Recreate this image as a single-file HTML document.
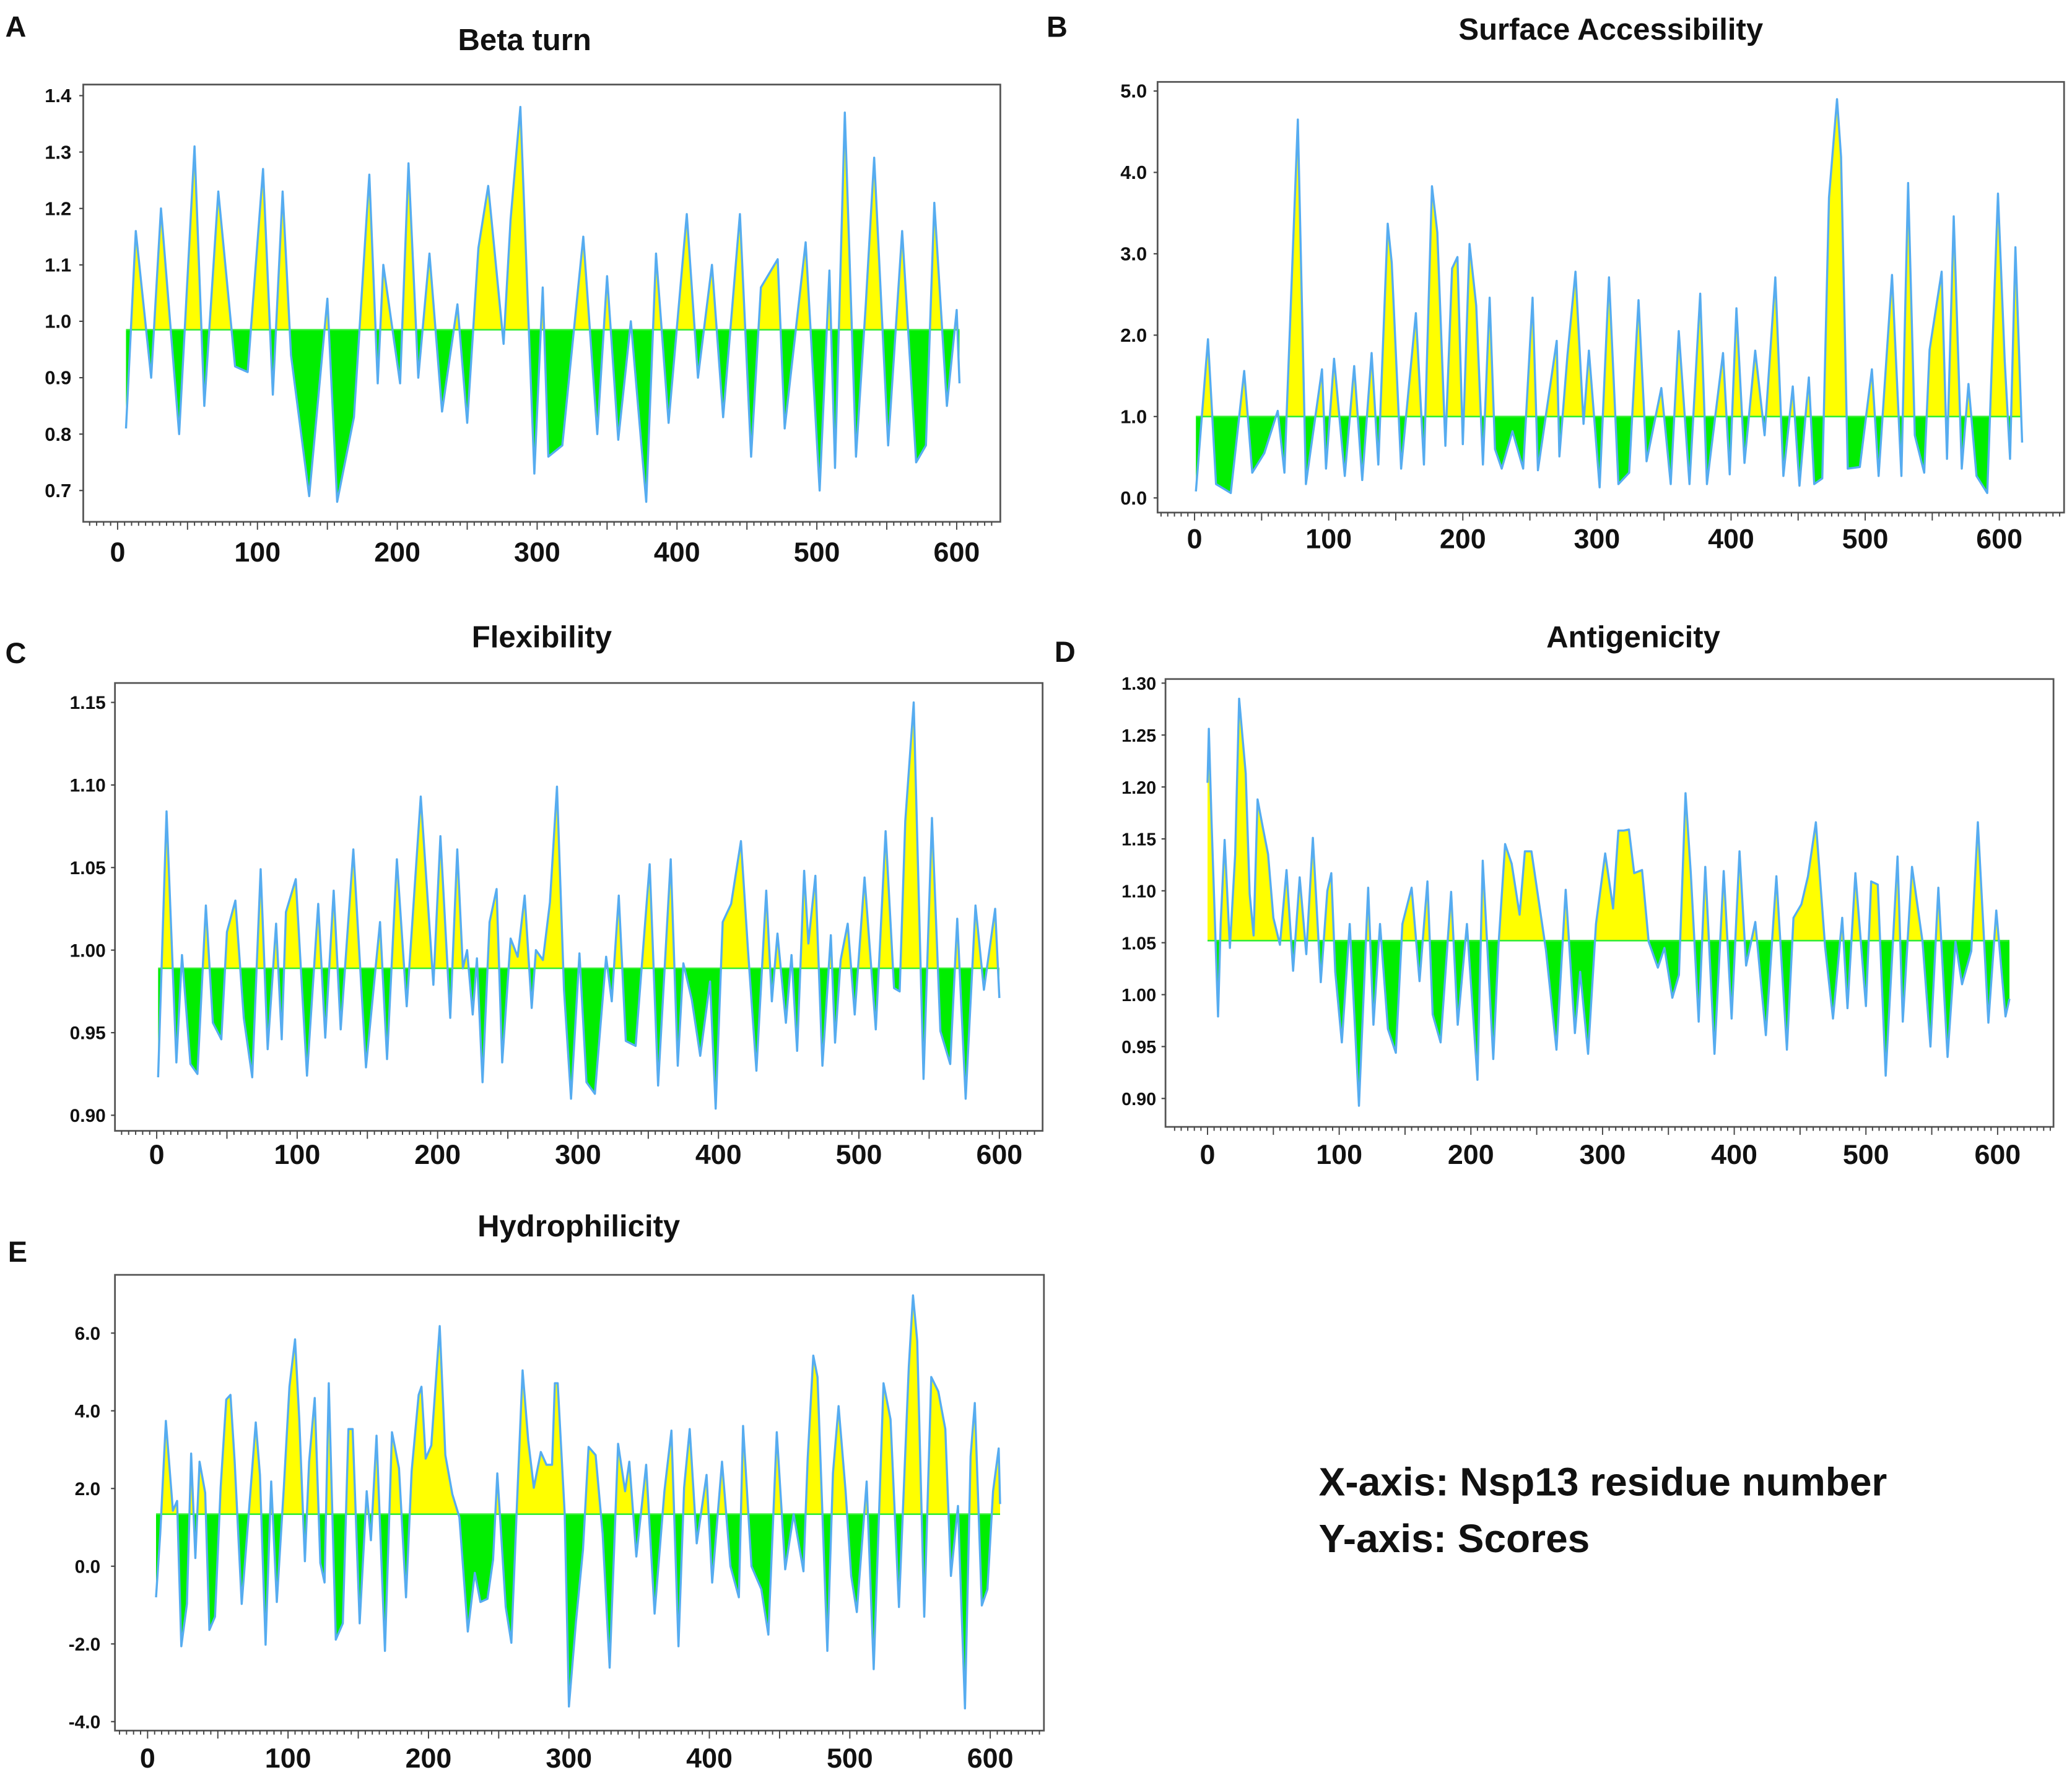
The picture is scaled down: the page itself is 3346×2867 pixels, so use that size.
<!DOCTYPE html>
<html><head><meta charset="utf-8"><title>Nsp13 antigenicity profiles</title>
<style>
html,body{margin:0;padding:0;background:#fff;}
svg{display:block;}
text{font-family:"Liberation Sans",sans-serif;font-weight:bold;fill:#111;}
</style></head>
<body>
<svg id="fig" width="3346" height="2867" viewBox="0 0 1568 1343.6" preserveAspectRatio="none" xmlns="http://www.w3.org/2000/svg">
<rect x="0" y="0" width="1568" height="1343.6" fill="#fff"/>
<text x="4" y="28" font-size="22">A</text>
<text x="397" y="38" font-size="23" text-anchor="middle">Beta turn</text>
<text x="792" y="28" font-size="22">B</text>
<text x="1219" y="30" font-size="23" text-anchor="middle">Surface Accessibility</text>
<text x="4" y="502" font-size="22">C</text>
<text x="410" y="490" font-size="23" text-anchor="middle">Flexibility</text>
<text x="798" y="501" font-size="22">D</text>
<text x="1236" y="490" font-size="23" text-anchor="middle">Antigenicity</text>
<text x="6" y="955" font-size="22">E</text>
<text x="438" y="936" font-size="23" text-anchor="middle">Hydrophilicity</text>
<text x="998" y="1132" font-size="30">X-axis: Nsp13 residue number</text>
<text x="998" y="1175" font-size="30">Y-axis: Scores</text>
</svg>
<script>
// ---- Data (residue number, score) ----
const aRes=[6,13,24,31,44,55,62,72,84,93,104,111,118,124,137,150,157,169,180,186,190,202,208,215,223,232,243,250,258,265,276,281,288,298,304,308,318,333,343,350,358,367,378,385,394,407,415,425,433,445,453,460,472,477,492,502,509,513,520,528,535,541,551,561,571,578,584,593,600,602];
const aVal=[0.81,1.16,0.90,1.20,0.80,1.31,0.85,1.23,0.92,0.91,1.27,0.87,1.23,0.94,0.69,1.04,0.68,0.83,1.26,0.89,1.10,0.89,1.28,0.90,1.12,0.84,1.03,0.82,1.13,1.24,0.96,1.18,1.38,0.73,1.06,0.76,0.78,1.15,0.80,1.08,0.79,1.00,0.68,1.12,0.82,1.19,0.90,1.10,0.83,1.19,0.76,1.06,1.11,0.81,1.14,0.70,1.09,0.74,1.37,0.76,1.03,1.29,0.78,1.16,0.75,0.78,1.21,0.85,1.02,0.89];
const bRes=[1,10,16,27,37,43,52,62,67,77,83,95,98,104,112,119,125,132,137,144,147,154,165,171,177,181,187,192,196,200,205,210,215,220,224,229,237,245,252,256,270,272,278,284,290,294,302,309,316,324,331,337,348,355,361,369,377,382,394,399,404,410,418,425,433,439,446,451,458,462,468,473,479,482,487,496,505,510,520,527,532,537,544,548,557,561,566,572,577,583,591,599,604,608,612,617];
const bVal=[0.08,1.95,0.17,0.06,1.56,0.31,0.55,1.07,0.31,4.65,0.17,1.58,0.36,1.71,0.27,1.62,0.22,1.78,0.41,3.37,2.89,0.36,2.27,0.41,3.83,3.26,0.64,2.82,2.96,0.66,3.12,2.36,0.41,2.46,0.60,0.36,0.82,0.36,2.46,0.34,1.93,0.51,1.75,2.78,0.91,1.81,0.13,2.71,0.17,0.31,2.43,0.45,1.35,0.17,2.05,0.17,2.51,0.17,1.78,0.29,2.33,0.43,1.81,0.77,2.71,0.27,1.37,0.15,1.48,0.17,0.24,3.69,4.90,4.19,0.36,0.38,1.58,0.27,2.74,0.27,3.87,0.77,0.31,1.82,2.78,0.48,3.46,0.36,1.40,0.27,0.06,3.74,1.69,0.48,3.08,0.68];
const cRes=[1,7,14,18,24,29,35,40,46,50,56,62,68,74,79,85,89,92,99,107,115,120,126,131,140,149,159,164,171,178,188,197,202,209,214,218,221,225,228,232,237,242,246,252,257,262,267,270,275,280,285,290,295,301,306,312,320,324,329,334,341,351,357,366,371,375,381,387,394,398,403,409,416,421,427,434,438,442,448,452,456,461,464,469,474,480,483,487,492,497,504,512,519,525,529,533,539,546,552,558,565,570,576,583,589,597,600];
const cVal=[0.923,1.084,0.932,0.997,0.931,0.925,1.027,0.956,0.946,1.011,1.030,0.959,0.923,1.049,0.940,1.016,0.946,1.023,1.043,0.924,1.028,0.947,1.036,0.952,1.061,0.929,1.017,0.934,1.055,0.966,1.093,0.979,1.069,0.959,1.061,0.989,1.000,0.961,0.995,0.920,1.017,1.037,0.932,1.007,0.996,1.033,0.965,1.000,0.994,1.029,1.099,0.976,0.910,0.998,0.920,0.913,0.996,0.969,1.033,0.945,0.942,1.052,0.918,1.055,0.930,0.992,0.970,0.936,0.981,0.904,1.017,1.028,1.066,1.000,0.927,1.036,0.969,1.010,0.956,0.997,0.939,1.048,1.004,1.045,0.930,1.009,0.944,0.994,1.016,0.961,1.044,0.952,1.072,0.977,0.975,1.078,1.150,0.922,1.080,0.951,0.931,1.019,0.910,1.027,0.976,1.025,0.971];
const dRes=[0,1,3,8,10,13,17,21,24,29,32,35,38,42,46,50,55,60,65,70,75,80,86,91,94,97,102,108,115,122,126,131,137,143,148,155,161,167,171,177,185,190,197,205,209,217,221,226,231,237,241,246,252,257,265,272,279,283,289,295,302,308,312,316,320,324,330,335,342,347,353,358,363,367,373,378,385,392,398,404,409,416,424,432,440,445,451,456,462,469,475,482,486,492,500,504,509,515,524,528,535,543,549,555,562,568,573,580,585,593,599,606,609];
const dVal=[1.204,1.256,1.169,0.979,1.068,1.149,1.045,1.135,1.285,1.213,1.097,1.057,1.188,1.161,1.135,1.074,1.048,1.120,1.023,1.113,1.039,1.151,1.012,1.100,1.117,1.022,0.954,1.068,0.893,1.103,0.971,1.068,0.967,0.944,1.068,1.103,1.013,1.109,0.981,0.954,1.099,0.971,1.068,0.918,1.129,0.938,1.048,1.145,1.126,1.077,1.138,1.138,1.086,1.043,0.947,1.101,0.963,1.022,0.943,1.068,1.136,1.083,1.158,1.158,1.159,1.117,1.120,1.051,1.026,1.045,0.997,1.019,1.194,1.117,0.974,1.123,0.943,1.119,0.977,1.138,1.028,1.070,0.961,1.114,0.947,1.074,1.087,1.114,1.166,1.046,0.977,1.074,0.987,1.117,0.989,1.109,1.106,0.922,1.133,0.974,1.123,1.051,0.950,1.103,0.940,1.051,1.010,1.042,1.166,0.973,1.081,0.979,0.996];
const eRes=[6,9,13,18,21,24,28,31,34,37,41,44,48,52,56,59,62,67,72,77,80,84,88,92,97,101,105,108,112,115,119,123,126,129,134,139,143,146,151,156,159,163,169,174,179,184,188,193,195,198,202,208,212,217,222,228,233,237,242,246,249,255,259,263,267,271,275,280,284,288,290,292,297,300,305,310,314,319,324,329,335,340,343,348,355,361,368,373,378,382,386,391,398,402,409,415,421,424,430,437,442,448,454,460,467,470,474,477,484,488,492,497,501,505,512,517,524,529,535,542,545,548,553,558,563,568,572,577,582,586,589,594,598,602,606,607];
const eVal=[-0.80,0.84,3.74,1.43,1.68,-2.06,-0.97,2.90,0.21,2.69,1.89,-1.64,-1.30,2.02,4.29,4.41,2.69,-0.97,1.34,3.70,2.35,-2.02,2.18,-0.92,2.02,4.62,5.84,3.78,0.13,2.69,4.33,0.08,-0.42,4.71,-1.89,-1.47,3.53,3.53,-1.47,1.93,0.67,3.36,-2.18,3.45,2.52,-0.80,2.44,4.41,4.62,2.77,3.11,6.18,2.86,1.85,1.26,-1.68,-0.17,-0.92,-0.84,0.17,2.39,-1.05,-1.97,1.60,5.04,3.24,2.02,2.94,2.61,2.61,4.71,4.71,1.34,-3.61,-1.43,0.42,3.07,2.86,0.84,-2.61,3.15,1.93,2.69,0.25,2.61,-1.22,1.93,3.49,-2.06,2.02,3.53,0.59,2.35,-0.42,2.69,0.00,-0.80,3.61,0.00,-0.59,-1.76,3.45,-0.08,1.34,-0.13,2.77,5.42,4.87,-2.18,2.39,4.12,1.93,-0.25,-1.18,2.18,-2.65,4.71,3.78,-1.05,5.13,6.97,5.80,-1.30,4.87,4.50,3.53,-0.25,1.55,-3.66,2.82,4.20,-1.01,-0.59,1.93,3.03,1.60];
// tick values
const aYTicks=[1.4,1.3,1.2,1.1,1.0,0.9,0.8,0.7];
const bYTicks=[5.0,4.0,3.0,2.0,1.0,0.0];
const cYTicks=[1.15,1.10,1.05,1.00,0.95,0.90];
const dYTicks=[1.30,1.25,1.20,1.15,1.10,1.05,1.00,0.95,0.90];
const eYTicks=[6,4,2,0,-2,-4];
const xTickLabels=[0,100,200,300,400,500,600];

const NS='http://www.w3.org/2000/svg';
const svg=document.getElementById('fig');
function mk(t,attrs,parent){const e=document.createElementNS(NS,t);for(const k in attrs)e.setAttribute(k,attrs[k]);(parent||svg).appendChild(e);return e;}

const panels=[
 {id:'beta-turn',res:aRes,val:aVal,base:0.985,box:[63,64,757,395],x0:89,kx:1.0583,yRef:1.4,yRefPx:72.4,ky:427,yTicks:aYTicks,dec:1,ylx:54,xly:425,fs:14.5},
 {id:'surface-accessibility',res:bRes,val:bVal,base:1.0,box:[876,62,1562,388],x0:904,kx:1.015,yRef:5.0,yRefPx:68.9,ky:61.6,yTicks:bYTicks,dec:1,ylx:868,xly:415,fs:14.5},
 {id:'flexibility',res:cRes,val:cVal,base:0.989,box:[87,517,789,856],x0:118.6,kx:1.0628,yRef:1.15,yRefPx:531.7,ky:1250,yTicks:cYTicks,dec:2,ylx:80,xly:881,fs:14},
 {id:'antigenicity',res:dRes,val:dVal,base:1.052,box:[882,514,1554,853],x0:913.8,kx:0.9965,yRef:1.30,yRefPx:517.1,ky:786,yTicks:dYTicks,dec:2,ylx:875,xly:881,fs:13.5},
 {id:'hydrophilicity',res:eRes,val:eVal,base:1.34,box:[87,965,790,1310],x0:111.7,kx:1.0628,yRef:6.0,yRefPx:1009.1,ky:29.41,yTicks:eYTicks,dec:1,ylx:76,xly:1338,fs:14}
];

panels.forEach(function(p){
  const X=function(r){return p.x0+p.kx*r;};
  const Y=function(v){return p.yRefPx-(v-p.yRef)*p.ky;};
  const [L,T,R,B]=p.box;
  const g=mk('g',{});
  
  
  const plot=mk('rect',{x:L,y:T,width:R-L,height:B-T,fill:'#fff',stroke:'#555','stroke-width':1.3},g);
  
  
  const yb=Y(p.base);
  const cu='clipU-'+p.id, cd='clipD-'+p.id;
  const defs=mk('defs',{},g);
  const c1=mk('clipPath',{id:cu},defs); mk('rect',{x:L,y:T,width:R-L,height:yb-T},c1);
  const c2=mk('clipPath',{id:cd},defs); mk('rect',{x:L,y:yb,width:R-L,height:B-yb},c2);
  let pts=[];
  for(let i=0;i<p.res.length;i++){pts.push(X(p.res[i]).toFixed(2)+','+Y(p.val[i]).toFixed(2));}
  const area='M'+X(p.res[0]).toFixed(2)+','+yb.toFixed(2)+' L'+pts.join(' L')+' L'+X(p.res[p.res.length-1]).toFixed(2)+','+yb.toFixed(2)+' Z';
  const up=mk('path',{d:area,fill:'#ffff00','clip-path':'url(#'+cu+')'},g);
  
  
  const dn=mk('path',{d:area,fill:'#00ee00','clip-path':'url(#'+cd+')'},g);
  
  
  const bl=mk('line',{x1:X(p.res[0]),x2:X(p.res[p.res.length-1]),y1:yb,y2:yb,stroke:'#33ee33','stroke-width':1.2},g);
  
  
  const line=mk('polyline',{points:pts.join(' '),fill:'none',stroke:'#56acf0','stroke-width':1.6,'stroke-linejoin':'round'},g);
  
  
  p.yTicks.forEach(function(v){
    const yy=Y(v);
    mk('line',{x1:L-3,x2:L,y1:yy,y2:yy,stroke:'#444','stroke-width':1},g);
    const t=mk('text',{x:p.ylx,y:yy+5,'font-size':p.fs,'text-anchor':'end'},g);
    t.textContent=v.toFixed(p.dec);
    
    
  });
  let path='';
  for(let r=-200;r<=800;r+=5){
    const xx=X(r);
    if(xx<L+2||xx>R-2)continue;
    const len=(r%50===0)?6:3;
    path+='M'+xx.toFixed(2)+','+B+' v'+len+' ';
  }
  mk('path',{d:path,stroke:'#444','stroke-width':0.9,fill:'none'},g);
  xTickLabels.forEach(function(r){
    const t=mk('text',{x:X(r),y:p.xly,'font-size':21,'text-anchor':'middle'},g);
    t.textContent=String(r);
    
    
  });
});
</script>
</body></html>
